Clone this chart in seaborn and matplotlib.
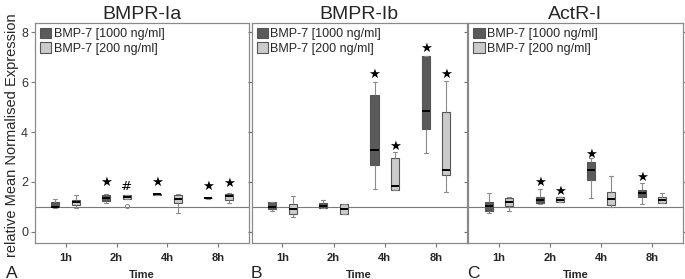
import numpy as np
import pandas as pd
import matplotlib
matplotlib.use("Agg")
import matplotlib.pyplot as plt
import seaborn as sns

sns.set_style("white")
plt.rcParams['font.family'] = ['Liberation Sans', 'DejaVu Sans']

times = ['1h', '2h', '4h', '8h']
doses = ['BMP-7 [1000 ng/ml]', 'BMP-7 [200 ng/ml]']
panels = ['BMPR-Ia', 'BMPR-Ib', 'ActR-I']
letters = ['A', 'B', 'C']

# per-time lists of sample values (low whisker, q1, median, q3, high whisker)
bmpr_ia_1000 = [[0.97, 0.98, 0.99, 1.20, 1.30],
                [1.14, 1.23, 1.35, 1.47, 1.51],
                [1.48, 1.49, 1.50, 1.52, 1.53],
                [1.33, 1.34, 1.35, 1.36, 1.37]]
bmpr_ia_200 = [[0.95, 1.08, 1.18, 1.27, 1.46],
               [1.02, 1.30, 1.31, 1.35, 1.39, 1.43, 1.47, 1.47, 1.47],
               [0.74, 1.15, 1.33, 1.49, 1.51],
               [1.17, 1.26, 1.43, 1.51, 1.57]]
bmpr_ib_1000 = [[0.82, 0.91, 1.00, 1.20, 1.20],
                [0.94, 0.94, 1.03, 1.14, 1.27],
                [1.71, 2.68, 3.28, 5.49, 6.00],
                [3.17, 4.14, 4.85, 7.04, 7.04]]
bmpr_ib_200 = [[0.60, 0.71, 0.90, 1.11, 1.43],
               [0.70, 0.70, 0.90, 1.12, 1.12],
               [1.67, 1.69, 1.85, 2.97, 3.19],
               [1.61, 2.28, 2.49, 4.79, 6.03]]
actr_i_1000 = [[0.76, 0.84, 1.03, 1.19, 1.54],
               [1.12, 1.17, 1.27, 1.41, 1.73],
               [1.34, 2.09, 2.48, 2.81, 2.95],
               [1.11, 1.41, 1.54, 1.67, 1.97]]
actr_i_200 = [[0.83, 1.03, 1.19, 1.35, 1.38],
              [1.18, 1.18, 1.26, 1.38, 1.38],
              [1.00, 1.06, 1.30, 1.59, 2.24],
              [1.14, 1.14, 1.27, 1.41, 1.55]]

# significance marks: (panel, time, dose index, symbol, y)
marks = [(0, '2h', 0, '★', 1.97), (0, '2h', 1, '#', 1.83), (0, '4h', 0, '★', 1.98),
         (0, '8h', 0, '★', 1.81), (0, '8h', 1, '★', 1.94),
         (1, '4h', 0, '★', 6.30), (1, '4h', 1, '★', 3.44),
         (1, '8h', 0, '★', 7.36), (1, '8h', 1, '★', 6.30),
         (2, '2h', 0, '★', 1.97), (2, '2h', 1, '★', 1.63),
         (2, '4h', 0, '★', 3.12), (2, '8h', 0, '★', 2.17)]

series = [(bmpr_ia_1000, bmpr_ia_200), (bmpr_ib_1000, bmpr_ib_200), (actr_i_1000, actr_i_200)]
rows = []
for p, (s1, s2) in enumerate(series):
    for d, s in enumerate((s1, s2)):
        for t, vals in zip(times, s):
            for v in vals:
                rows.append((panels[p], t, doses[d], v))
df = pd.DataFrame(rows, columns=['panel', 'time', 'dose', 'value'])

fig = plt.figure(figsize=(6.85, 2.79), dpi=100)
lefts = [35, 251.7, 468.3]
rights = [249, 466.7, 682.7]
letter_x = [6, 251, 467]
W, H = 685, 279
palette = {doses[0]: '#5a5a5a', doses[1]: '#cbcbcb'}

for i, name in enumerate(panels):
    ax = fig.add_axes([lefts[i] / W, 1 - 243 / H, (rights[i] - lefts[i]) / W, (243 - 23) / H])
    sub = df[df.panel == name]
    ax.axhline(1, color='#7a7a7a', lw=0.8, zorder=0)
    sns.boxplot(data=sub, x='time', y='value', hue='dose', order=times, hue_order=doses,
                palette=palette, width=0.8, gap=0.6, linecolor='#555555', linewidth=0.8,
                medianprops=dict(color='black', linewidth=1.4),
                whiskerprops=dict(color='#8a8a8a', linewidth=0.8),
                capprops=dict(color='#8a8a8a', linewidth=0.8),
                flierprops=dict(marker='o', markersize=3, markerfacecolor='none',
                                markeredgecolor='#888888', markeredgewidth=0.7),
                ax=ax)
    for (pi, t, d, sym, y) in marks:
        if pi == i:
            xpos = times.index(t) + (-0.2 if d == 0 else 0.2)
            ax.text(xpos, y, sym, ha='center', va='center', fontsize=9.5,
                    family=['DejaVu Sans'], color='black')
    ax.set_xlim(-0.6, 3.6)
    ax.set_ylim(-0.45, 8.37)
    ax.set_yticks([0, 2, 4, 6, 8])
    ax.set_title(name, fontsize=14, pad=3)
    ax.set_xlabel('Time', fontsize=8, fontweight='bold', labelpad=5)
    for lab in ax.get_xticklabels():
        lab.set_fontweight('bold')
    ax.tick_params(axis='x', bottom=True, direction='out', length=3, width=0.8,
                   color='#777777', labelsize=8, pad=4)
    ax.tick_params(axis='y', left=True, right=True, direction='out', length=3, width=0.8,
                   color='#777777', labelsize=9, labelcolor='#333333', pad=2)
    if i == 0:
        ax.set_ylabel('relative Mean Normalised Expression', fontsize=10.5, va='center')
        ax.yaxis.set_label_coords(-0.108, 0.49)
    else:
        ax.set_ylabel('')
        ax.tick_params(axis='y', labelleft=False)
    for sp in ax.spines.values():
        sp.set_color('#8a8a8a')
        sp.set_linewidth(0.9)
    handles, labels = ax.get_legend_handles_labels()
    ax.legend(handles, labels, loc='upper left', frameon=False, fontsize=9,
              handlelength=0.9, handleheight=0.9, handletextpad=0.2,
              labelspacing=0.15, borderaxespad=0.2, borderpad=0.2)
    fig.text(letter_x[i] / W, 1 - 277.5 / H, letters[i], fontsize=12.5,
             ha='left', va='baseline', color='#222222')

fig.savefig('out.png', dpi=100)
